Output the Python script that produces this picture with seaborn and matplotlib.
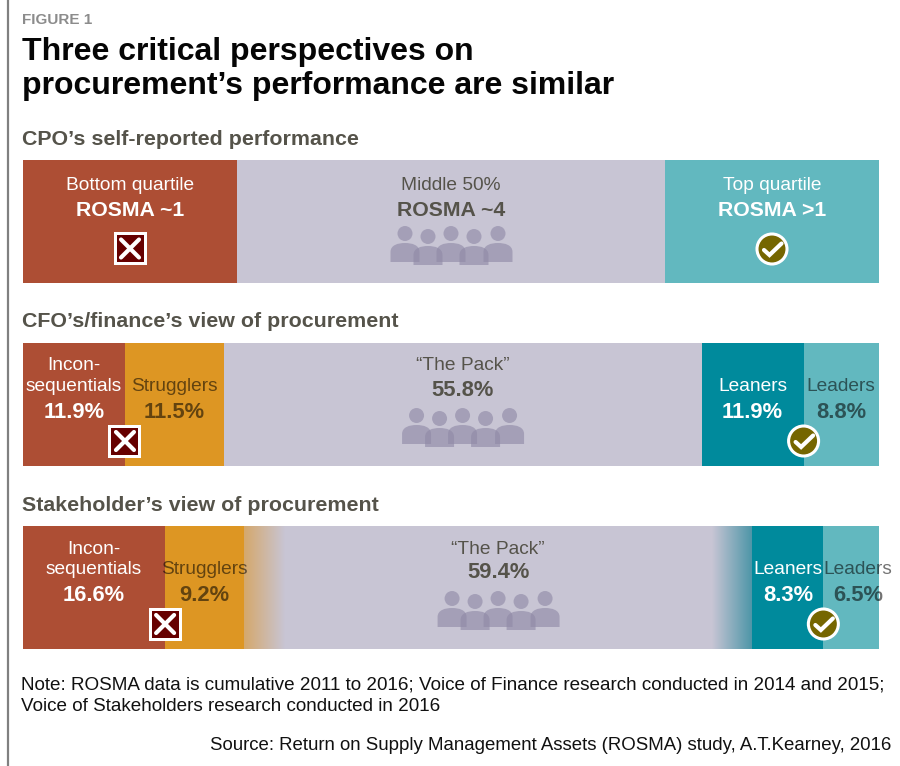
import numpy as np
import pandas as pd
import matplotlib
matplotlib.use("Agg")
import matplotlib.pyplot as plt
import seaborn as sns
from matplotlib.colors import LinearSegmentedColormap
from matplotlib.patches import Circle, PathPatch, Rectangle
from matplotlib.path import Path

sns.set_theme(style="white")
plt.rcParams["font.family"] = ["Liberation Sans", "DejaVu Sans"]

# Shares of each group, in percent
row_names = ["CPO's self-reported performance",
             "CFO's/finance's view of procurement",
             "Stakeholder's view of procurement"]
cpo_values = [25.0, 50.0, 25.0]
cfo_values = [11.9, 11.5, 55.8, 11.9, 8.8]
stakeholder_values = [16.6, 9.2, 59.4, 8.3, 6.5]

RED, ORANGE, GREY, TEAL, LIGHT_TEAL = "#AD4E34", "#DD9623", "#C8C5D4", "#008A9C", "#62B8BF"
cpo_colors = [RED, GREY, LIGHT_TEAL]
five_colors = [RED, ORANGE, GREY, TEAL, LIGHT_TEAL]

FIG_W, FIG_H = 900, 766
BAR_L, BAR_R = 23, 879
ROW_TOPS = [160, 343, 526]
ROW_H = 123
ROW_STEP = 183
PCT_TO_PX = (BAR_R - BAR_L) / 100


def stack_ends(values):
    """Cumulative edges of a row, scaled so the row fills 100%."""
    return np.cumsum(values) / np.sum(values) * 100


def stack_mids(values):
    ends = stack_ends(values)
    return (np.concatenate([[0], ends[:-1]]) + ends) / 2


fig = plt.figure(figsize=(FIG_W / 100, FIG_H / 100), dpi=100, facecolor="white")

# Bars: cumulative totals drawn back to front give the stacked look
ax = fig.add_axes([0, 0, 1, 1])
frames = []
for name, values, colors in zip(row_names,
                                [cpo_values, cfo_values, stakeholder_values],
                                [cpo_colors, five_colors, five_colors]):
    frames.append(pd.DataFrame({"row": name, "share": values,
                                "end": stack_ends(values), "color": colors}))
bars = pd.concat(frames, ignore_index=True)
for _, seg in bars.sort_values("end", ascending=False).iterrows():
    sns.barplot(data=pd.DataFrame([seg]), x="end", y="row", order=row_names,
                color=seg["color"], saturation=1, width=ROW_H / ROW_STEP,
                linewidth=0, ax=ax)
ax.set_xlim(-BAR_L / PCT_TO_PX, (FIG_W - BAR_L) / PCT_TO_PX)
row0_mid = ROW_TOPS[0] + ROW_H / 2
ax.set_ylim((FIG_H - row0_mid) / ROW_STEP, -row0_mid / ROW_STEP)
ax.axis("off")

# Overlay in pixel units for the text and pictograms
ov = fig.add_axes([0, 0, 1, 1], facecolor="none")
ov.set_xlim(0, FIG_W)
ov.set_ylim(FIG_H, 0)
ov.axis("off")


def pct_x(pct):
    return BAR_L + pct * PCT_TO_PX


def write(x, y, s, size=13.8, color="white", weight="normal", ha="center", alpha=None):
    ov.text(x, y, s, fontsize=size, color=color, fontweight=weight, ha=ha,
            va="baseline", alpha=alpha, zorder=6)


def label(x, y_label, y_value, name, value, color, alpha=None):
    write(x, y_label, name, color=color, alpha=alpha)
    write(x, y_value, value, size=15.8, color=color, weight="bold", alpha=alpha)


def cross_box(cx, cy):
    ov.add_patch(Rectangle((cx - 16.5, cy - 16.5), 33, 33, fc="white", ec="none", zorder=7))
    ov.add_patch(Rectangle((cx - 13.5, cy - 13.5), 27, 27, fc="#660000", ec="none", zorder=7))
    for sign in (1, -1):
        ov.plot([cx - 9, cx + 9], [cy - 9 * sign, cy + 9 * sign], color="white",
                lw=3.0, solid_capstyle="round", zorder=8)


def check_badge(cx, cy):
    ov.add_patch(Circle((cx, cy), 15, fc="#756600", ec="white", lw=2.2, zorder=7))
    ov.plot([cx - 8, cx - 2.5, cx + 9.5], [cy + 1, cy + 6, cy - 5.5], color="white", lw=3.0,
            solid_capstyle="round", solid_joinstyle="miter", zorder=8)


def person(cx, top, alpha=0.62):
    ov.add_patch(Circle((cx, top + 7.5), 7.5, fc="#8F89A6", ec="none", alpha=alpha, zorder=4))
    w, y0, y1 = 14.5, top + 17, top + 36
    verts = [(cx - w, y1), (cx - w, y0 + 9),
             (cx - w, y0 + 2), (cx - 7, y0), (cx, y0),
             (cx + 7, y0), (cx + w, y0 + 2), (cx + w, y0 + 9),
             (cx + w, y1), (cx - w, y1)]
    codes = [Path.MOVETO, Path.LINETO,
             Path.CURVE4, Path.CURVE4, Path.CURVE4,
             Path.CURVE4, Path.CURVE4, Path.CURVE4,
             Path.LINETO, Path.CLOSEPOLY]
    ov.add_patch(PathPatch(Path(verts, codes), fc="#8F89A6", ec="none", alpha=alpha, zorder=4))


def crowd(cx, top):
    for dx, dy in zip([-46, -23, 0, 23, 47], [0, 3, 0, 3, 0]):
        person(cx + dx, top + dy)


def fade(x0, x1, top, start, end):
    cmap = LinearSegmentedColormap.from_list("fade", [start, end])
    ov.imshow(np.linspace(0, 1, 256)[None, :], cmap=cmap, aspect="auto",
              extent=(x0, x1, top + ROW_H, top), zorder=3, interpolation="bilinear")
    ov.set_xlim(0, FIG_W)
    ov.set_ylim(FIG_H, 0)


# Frame line and headings
ov.plot([8, 8], [0, FIG_H], color="#808080", lw=1.6, zorder=1, solid_capstyle="butt")
write(22, 24, "FIGURE 1", size=11, color="#8C8C8C", weight="bold", ha="left")
write(22, 60, "Three critical perspectives on", size=23, color="#050505", weight="bold", ha="left")
write(22, 94, "procurement\u2019s performance are similar", size=23, color="#050505",
      weight="bold", ha="left")
HEAD = "#55534A"
write(22, 145, "CPO\u2019s self-reported performance", size=15.4, color=HEAD, weight="bold", ha="left")
write(22, 327, "CFO\u2019s/finance\u2019s view of procurement", size=15.4, color=HEAD, weight="bold", ha="left")
write(22, 511, "Stakeholder\u2019s view of procurement", size=15.4, color=HEAD, weight="bold", ha="left")

DARK = "black"
SOFT = 0.55
ROSMA_SIZE = 15.3

# First row
mids = stack_mids(cpo_values)
write(pct_x(mids[0]), 190, "Bottom quartile")
write(pct_x(mids[0]), 216, "ROSMA ~1", size=ROSMA_SIZE, weight="bold")
write(pct_x(mids[1]), 190, "Middle 50%", color=HEAD)
write(pct_x(mids[1]), 216, "ROSMA ~4", size=ROSMA_SIZE, color=HEAD, weight="bold")
write(pct_x(mids[2]), 190, "Top quartile")
write(pct_x(mids[2]), 216, "ROSMA >1", size=ROSMA_SIZE, weight="bold")
cross_box(pct_x(mids[0]), 248.5)
crowd(pct_x(mids[1]), 226)
check_badge(pct_x(mids[2]), 249)

# Second and third rows share one arrangement
for idx, (values, top) in enumerate([(cfo_values, 343), (stakeholder_values, 526)]):
    ends = stack_ends(values)
    mids = stack_mids(values)
    y_top, y_name, y_val = top + 27.5, top + 48, top + 75
    pct = [f"{v}%" for v in values]
    write(pct_x(mids[0]), y_top, "Incon-")
    label(pct_x(mids[0]), y_name, y_val, "sequentials", pct[0], "white")
    label(pct_x(mids[1]), y_name, y_val, "Strugglers", pct[1], DARK, SOFT)
    label(pct_x(mids[2]), y_top, top + 52.5, "\u201cThe Pack\u201d", pct[2], HEAD)
    label(pct_x(mids[3]), y_name, y_val, "Leaners", pct[3], "white")
    leaders_x = pct_x(mids[4]) + (7 if idx == 1 else 0)
    label(leaders_x, y_name, y_val, "Leaders", pct[4], DARK, SOFT)
    cross_box(pct_x(ends[0]), top + 98)
    crowd(pct_x(mids[2]), top + 65)
    check_badge(pct_x(ends[3]), top + 98)

# Soft edges around the middle band of the last row
s_ends = stack_ends(stakeholder_values)
fade(pct_x(s_ends[1]), pct_x(s_ends[1]) + 41, 526, "#D5A86C", GREY)
fade(pct_x(s_ends[2]) - 40, pct_x(s_ends[2]), 526, GREY, "#4E96A8")

# Footnotes
NOTE = "#111111"
write(21, 689, "Note: ROSMA data is cumulative 2011 to 2016; Voice of Finance research conducted in 2014 and 2015;",
      size=13.55, color=NOTE, ha="left")
write(21, 711, "Voice of Stakeholders research conducted in 2016", size=13.55, color=NOTE, ha="left")
write(891, 750, "Source: Return on Supply Management Assets (ROSMA) study, A.T.Kearney, 2016",
      size=13.45, color=NOTE, ha="right")

fig.savefig("out.png", dpi=100, facecolor="white")
